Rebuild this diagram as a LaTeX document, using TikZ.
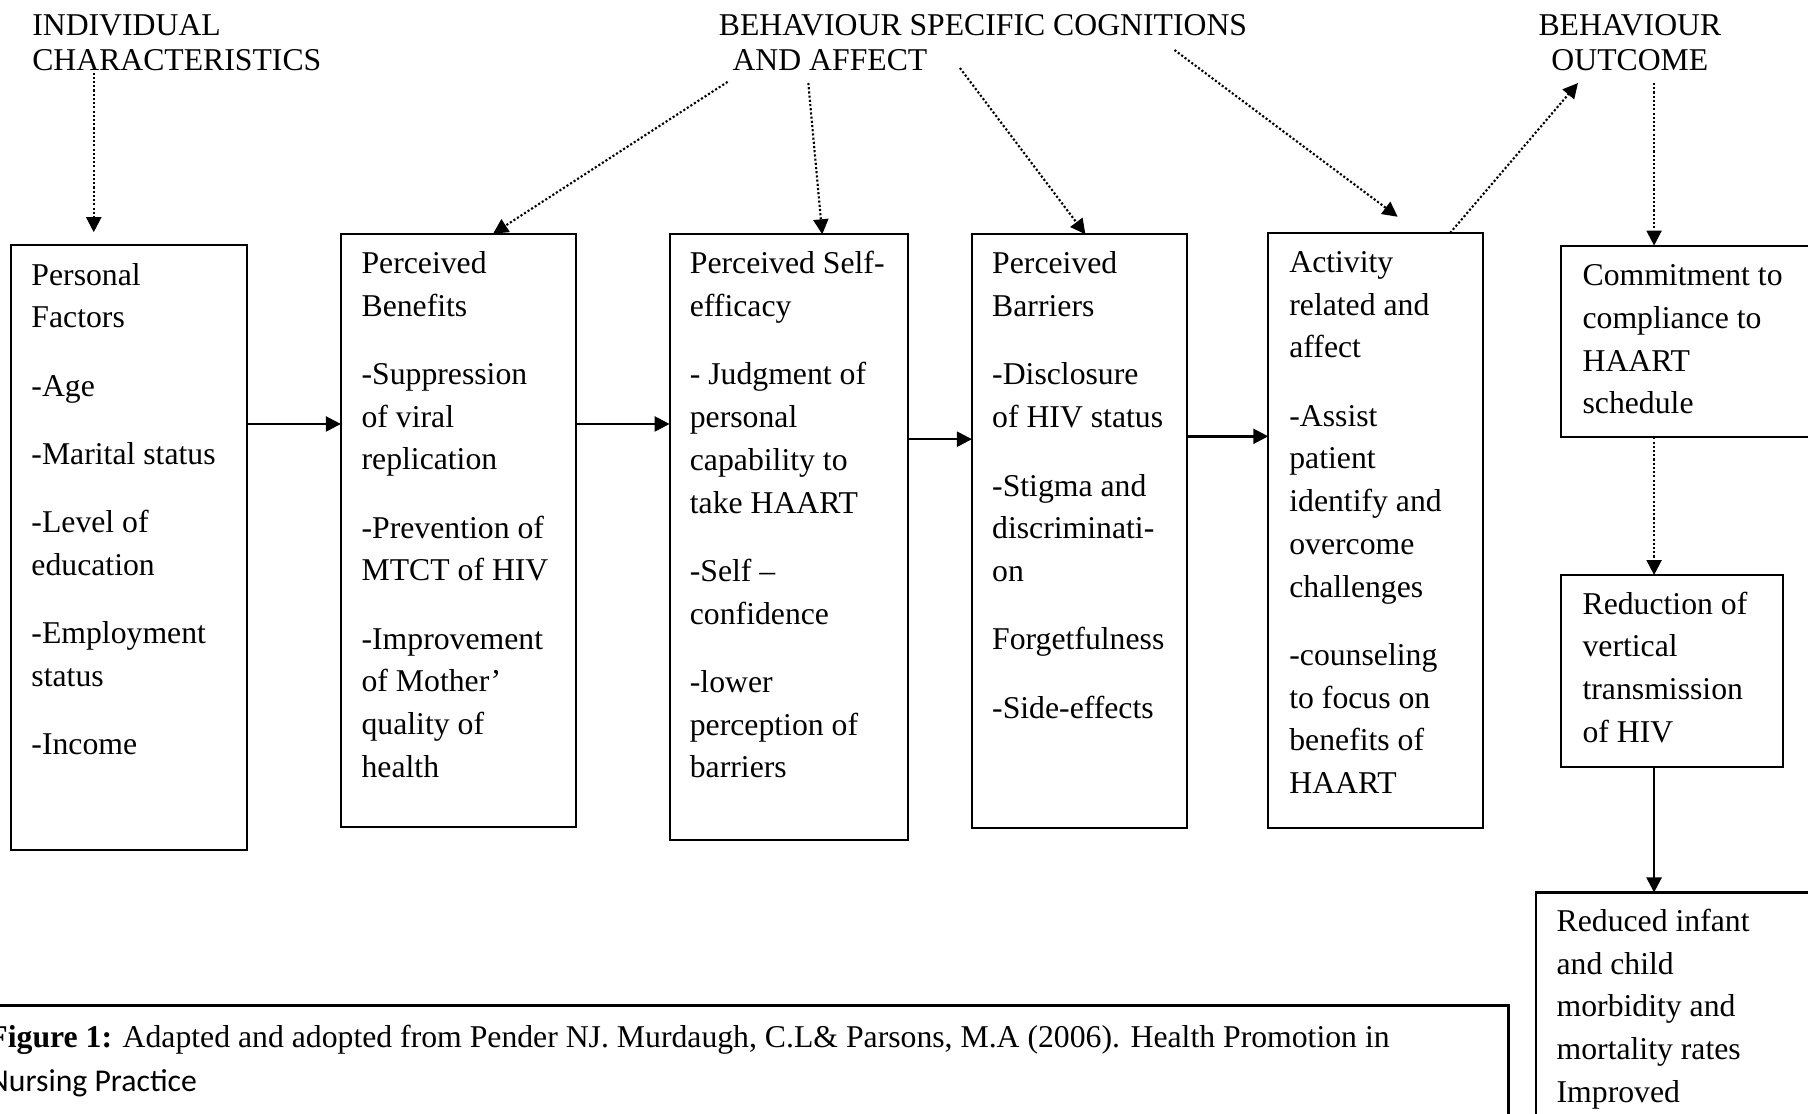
\documentclass[tikz,border=0pt]{standalone}
\usepackage{fontspec}
\setmainfont{Liberation Serif}
\newfontfamily\calibri{Carlito}
\usetikzlibrary{arrows.meta,fit}

\begin{document}
\begin{tikzpicture}[x=0.01153cm, y=-0.01153cm, every node/.style={inner sep=0pt, outer sep=0pt},
	stagebox/.style={draw, line width=0.6pt, rectangle},
	stagetext/.style={anchor=north west, align=left, font=\fontsize{9.03}{12.15}\selectfont},
	headtext/.style={anchor=north west, align=left, font=\fontsize{9.03}{9.94}\selectfont},
	flow/.style={line width=0.7pt, -{Triangle[length=1.5mm, width=1.5mm]}},
	cue/.style={line width=0.6pt, dash pattern=on 0.6pt off 0.6pt, -{Triangle[length=1.5mm, width=1.5mm]}}]
	
	\useasboundingbox (0,0) rectangle (1568,966);
	\clip (0,0) rectangle (1568,966);
	
	% Tiêu đề
	\node[headtext] (ind) at (28, 9.8) {\strut INDIVIDUAL\\CHARACTERISTICS};
	\node[headtext] (bsc) at (623.5, 9.5) {\strut BEHAVIOUR SPECIFIC COGNITIONS\\\hspace*{0.43em}AND AFFECT};
	\node[headtext, align=center, anchor=north] (bout) at (1413.5, 9.8) {\strut BEHAVIOUR\\OUTCOME};
	
	% Các hộp
	\node[stagebox, fit={(9.3,212.4) (214.3,737.3)}] (pf) {};
	\node[stagebox, fit={(295.6,202.7) (499.6,717.6)}] (pb) {};
	\node[stagebox, fit={(580.7,203.2) (787.5,728.8)}] (pse) {};
	\node[stagebox, fit={(842.9,203.2) (1029.7,718.2)}] (pbar) {};
	\node[stagebox, fit={(1099.9,202) (1286.4,718)}] (act) {};
	\node[stagebox, fit={(1353.7,213) (1600,379.3)}] (com) {};
	\node[stagebox, fit={(1353.5,498.7) (1546,665)}] (red) {};
	\node[stagebox, fit={(1331.8,774) (1600,1000)}] (rim) {};
	
	% Nội dung
	\node[stagetext] (pftxt) at ([shift={(18,9)}]pf.north west) {\strut Personal\\Factors\\[7.3pt]-Age\\[7.3pt]-Marital status\\[7.3pt]-Level of\\education\\[7.3pt]-Employment\\status\\[7.3pt]-Income};
	\node[stagetext] (pbtxt) at ([shift={(18,8.5)}]pb.north west) {\strut Perceived\\Benefits\\[7.3pt]-Suppression\\of viral\\replication\\[7.3pt]-Prevention of\\MTCT of HIV\\[7.3pt]-Improvement\\of Mother'\\quality of\\health};
	\node[stagetext] (psetxt) at ([shift={(17.6,8.5)}]pse.north west) {\strut Perceived Self-\\efficacy\\[7.3pt]- Judgment of\\personal\\capability to\\take HAART\\[7.3pt]-Self --\\confidence\\[7.3pt]-lower\\perception of\\barriers};
	\node[stagetext] (pbartxt) at ([shift={(17.6,8.5)}]pbar.north west) {\strut Perceived\\Barriers\\[7.3pt]-Disclosure\\of HIV status\\[7.3pt]-Stigma and\\discriminati-\\on\\[7.3pt]Forgetfulness\\[7.3pt]-Side-effects};
	\node[stagetext] (acttxt) at ([shift={(18.3,8.5)}]act.north west) {\strut Activity\\related and\\affect\\[7.3pt]-Assist\\patient\\identify and\\overcome\\challenges\\[7.3pt]-counseling\\to focus on\\benefits of\\HAART};
	\node[stagetext] (comtxt) at ([shift={(18.8,9)}]com.north west) {\strut Commitment to\\compliance to\\HAART\\schedule};
	\node[stagetext] (redtxt) at ([shift={(19,8)}]red.north west) {\strut Reduction of\\vertical\\transmission\\of HIV};
	\node[stagetext] (rimtxt) at ([shift={(18.2,8)}]rim.north west) {\strut Reduced infant\\and child\\morbidity and\\mortality rates\\Improved};
	
	% Chú thích
	\node[stagebox, line width=0.8pt, fit={(-30,872) (1308,1000)}] (cap) {};
	\node[anchor=north west, align=left, font=\fontsize{9.03}{12.5}\selectfont] (captxt) at (-10, 881.7) {\strut\textbf{Figure 1:} Adapted and adopted from Pender NJ. Murdaugh, C.L\& Parsons, M.A (2006). Health Promotion in\\{\calibri Nursing Practice}};
	
	% Mũi tên nét chấm
	\coordinate (indout) at (81.3, 63);
	\coordinate (bsc1) at (631, 71);
	\coordinate (bsc2) at (701, 72);
	\coordinate (bsc3) at (832.5, 59);
	\coordinate (bsc4) at (1018.6, 43.4);
	\coordinate (boutin) at (1368.5, 72);
	\coordinate (boutout) at (1434.5, 72);
	\draw[cue, shorten >=1.27mm] (indout) -- (indout |- pf.north);
	\draw[cue] (bsc1) -- ([shift={(30,0)}]pb.north);
	\draw[cue] (bsc2) -- ([shift={(29,0)}]pse.north);
	\draw[cue] (bsc3) -- ([shift={(5,0)}]pbar.north);
	\draw[cue] (bsc4) -- ([shift={(19,-14)}]act.north);
	\draw[cue] ([shift={(64.5,0)}]act.north) -- (boutin);
	\draw[cue] (boutout) -- (boutout |- com.north);
	\draw[cue] (boutout |- com.south) -- (boutout |- red.north);
	
	% Mũi tên liền
	\draw[flow] (pf.east |- 0,367.7) -- (pb.west |- 0,367.7);
	\draw[flow] (pb.east |- 0,367.7) -- (pse.west |- 0,367.7);
	\draw[flow] (pse.east |- 0,380.9) -- (pbar.west |- 0,380.9);
	\draw[flow] (pbar.east |- 0,378.4) -- (act.west |- 0,378.4);
	\draw[flow] (boutout |- red.south) -- (boutout |- rim.north);
	
\end{tikzpicture}
\end{document}
